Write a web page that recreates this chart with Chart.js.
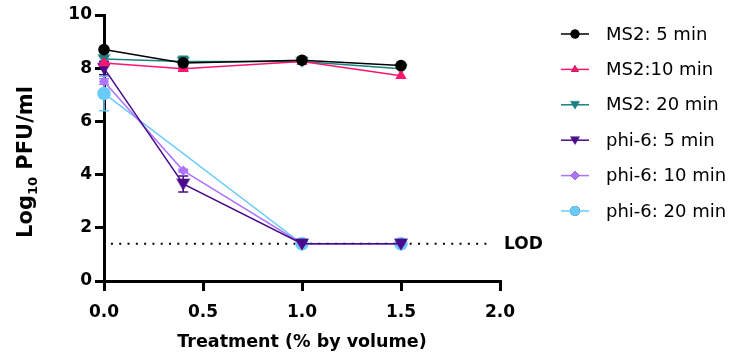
<!DOCTYPE html>
<html>
<head>
<meta charset="utf-8">
<script src="https://cdn.jsdelivr.net/npm/chart.js@4.4.1/dist/chart.umd.min.js"></script>
<style>
  html, body { margin: 0; padding: 0; background: #fff; }
  #wrap { width: 735px; height: 354px; position: relative; }
</style>
</head>
<body>
<div id="wrap"><canvas id="chart"></canvas></div>
<script>
// treatment concentrations (% by volume)
const doses = [0, 0.4, 1.0, 1.5];
const xTicks = [0, 0.5, 1.0, 1.5, 2.0];
const yTicks = [0, 2, 4, 6, 8, 10];
const lod = 1.4;

const seriesNames = ['MS2: 5 min', 'MS2:10 min', 'MS2: 20 min', 'phi-6: 5 min', 'phi-6: 10 min', 'phi-6: 20 min'];
const ms2_5 = [8.7, 8.2, 8.3, 8.1];
const ms2_10 = [8.2, 7.98, 8.25, 7.72];
const ms2_20 = [8.35, 8.25, 8.25, 7.98];
const phi_5 = [8.0, 3.65, 1.4, 1.4];
const phi_10 = [7.5, 4.15, 1.4, 1.4];
const phi_20 = [7.05, null, 1.4, 1.4];

// standard deviations
const ms2_5_sd = [0, 0, 0, 0];
const ms2_10_sd = [0.05, 0.05, 0, 0];
const ms2_20_sd = [0.1, 0.2, 0, 0];
const phi_5_sd = [0.25, 0.3, 0, 0];
const phi_10_sd = [0.1, 0.05, 0, 0];
const phi_20_sd = [0.65, 0, 0, 0];

const colors = ['#000000', '#ff1470', '#1b8080', '#4a0a8a', '#ad74ff', '#68ccfa'];
const shapes = ['circle', 'triangle', 'triangleDown', 'triangleDown', 'rectRot', 'circle'];
const sizes = [5.8, 6.5, 6.5, 7, 5.2, 6.8];

// Chart.js has no downward triangle, so make one
function downTriangle(r, color) {
  const c = document.createElement('canvas');
  const s = Math.ceil(r * 2 + 2);
  c.width = s; c.height = s;
  const g = c.getContext('2d');
  g.fillStyle = color;
  g.beginPath();
  g.moveTo(s / 2 - r, s / 2 - r * 0.75);
  g.lineTo(s / 2 + r, s / 2 - r * 0.75);
  g.lineTo(s / 2, s / 2 + r * 0.95);
  g.closePath();
  g.fill();
  return c;
}

const values = [ms2_5, ms2_10, ms2_20, phi_5, phi_10, phi_20];
const errors = [ms2_5_sd, ms2_10_sd, ms2_20_sd, phi_5_sd, phi_10_sd, phi_20_sd];

const datasets = values.map((vals, i) => ({
  label: seriesNames[i],
  data: doses.map((d, j) => ({ x: d, y: vals[j] })),
  borderColor: colors[i],
  backgroundColor: colors[i],
  borderWidth: 1.5,
  pointStyle: shapes[i] === 'triangleDown' ? downTriangle(sizes[i], colors[i]) : shapes[i],
  pointRadius: sizes[i],
  pointBorderWidth: 0,
  spanGaps: true,
  clip: false,
  sd: errors[i]
}));

const errorBars = {
  id: 'errorBars',
  beforeDatasetsDraw(chart) {
    const ctx = chart.ctx, ys = chart.scales.y;
    chart.data.datasets.forEach((ds, i) => {
      const meta = chart.getDatasetMeta(i);
      ctx.save();
      ctx.strokeStyle = ds.borderColor;
      ctx.lineWidth = 1.5;
      meta.data.forEach((pt, j) => {
        const v = ds.data[j].y, e = ds.sd[j];
        if (v == null || !e) return;
        const top = ys.getPixelForValue(v + e), bot = ys.getPixelForValue(v - e);
        ctx.beginPath();
        ctx.moveTo(pt.x, top); ctx.lineTo(pt.x, bot);
        ctx.moveTo(pt.x - 5, top); ctx.lineTo(pt.x + 5, top);
        ctx.moveTo(pt.x - 5, bot); ctx.lineTo(pt.x + 5, bot);
        ctx.stroke();
      });
      ctx.restore();
    });
  }
};

const lodLine = {
  id: 'lodLine',
  beforeDatasetsDraw(chart) {
    const ctx = chart.ctx, xs = chart.scales.x, ys = chart.scales.y;
    const y = ys.getPixelForValue(lod);
    ctx.save();
    ctx.strokeStyle = '#000';
    ctx.lineWidth = 2;
    ctx.setLineDash([2, 6.3]);
    ctx.beginPath();
    ctx.moveTo(xs.getPixelForValue(0.035), y);
    ctx.lineTo(xs.getPixelForValue(1.94), y);
    ctx.stroke();
    ctx.setLineDash([]);
    ctx.fillStyle = '#000';
    ctx.font = 'bold 17px "DejaVu Sans"';
    ctx.textBaseline = 'middle';
    ctx.fillText('LOD', xs.getPixelForValue(2.0) + 4, y + 1);
    ctx.restore();
  }
};

const titlesAndLegend = {
  id: 'titlesAndLegend',
  afterDraw(chart) {
    const ctx = chart.ctx, area = chart.chartArea;
    ctx.save();
    ctx.fillStyle = '#000';

    // x axis title
    ctx.font = 'bold 17.5px "DejaVu Sans"';
    ctx.textAlign = 'center';
    ctx.textBaseline = 'alphabetic';
    ctx.fillText('Treatment (% by volume)', (area.left + area.right) / 2, 347);

    // y axis title with subscript
    ctx.translate(32, 162);
    ctx.rotate(-Math.PI / 2);
    const big = 'bold 21px "DejaVu Sans"', small = 'bold 13px "DejaVu Sans"';
    ctx.font = big; const w1 = ctx.measureText('Log').width;
    ctx.font = small; const w2 = ctx.measureText('10').width;
    ctx.font = big; const w3 = ctx.measureText(' PFU/ml').width;
    let x = -(w1 + w2 + w3) / 2;
    ctx.textAlign = 'left';
    ctx.font = big; ctx.fillText('Log', x, 0); x += w1;
    ctx.font = small; ctx.fillText('10', x, 5); x += w2;
    ctx.font = big; ctx.fillText(' PFU/ml', x, 0);
    ctx.restore();

    // legend
    ctx.save();
    ctx.font = '18px "DejaVu Sans"';
    ctx.textBaseline = 'middle';
    chart.data.datasets.forEach((ds, i) => {
      const y = 34 + i * 35.4;
      ctx.strokeStyle = ds.borderColor;
      ctx.lineWidth = 1.5;
      ctx.beginPath(); ctx.moveTo(561, y); ctx.lineTo(589, y); ctx.stroke();
      Chart.helpers.drawPoint(ctx, {
        pointStyle: shapes[i] === 'triangleDown' ? downTriangle(5, ds.borderColor) : shapes[i],
        radius: shapes[i] === 'circle' && i === 5 ? 5 : 4.5,
        borderWidth: 0
      }, 575, y);
      ctx.fillStyle = ds.borderColor;
      ctx.fill();
      ctx.fillStyle = '#000';
      ctx.fillText(ds.label, 606, y + 1);
    });
    ctx.restore();
  }
};

const tickFont = { family: 'DejaVu Sans', size: 17, weight: 'bold' };

new Chart(document.getElementById('chart'), {
  type: 'line',
  data: { datasets },
  options: {
    responsive: true,
    maintainAspectRatio: false,
    animation: false,
    layout: { padding: { left: 0, right: 235, top: 15, bottom: 0 } },
    plugins: { legend: { display: false }, tooltip: { enabled: false } },
    scales: {
      x: {
        type: 'linear', min: 0, max: 2,
        afterBuildTicks: s => { s.ticks = xTicks.map(v => ({ value: v })); },
        afterFit: s => { s.height = 73; },
        ticks: { color: '#000', font: tickFont, padding: 11, callback: v => v.toFixed(1) },
        grid: { drawOnChartArea: false, color: '#000', lineWidth: 3, tickLength: 10 },
        border: { color: '#000', width: 3 }
      },
      y: {
        min: 0, max: 10,
        afterBuildTicks: s => { s.ticks = yTicks.map(v => ({ value: v })); },
        afterFit: s => { s.width = 104; },
        ticks: { color: '#000', font: tickFont, padding: 3 },
        grid: { drawOnChartArea: false, color: '#000', lineWidth: 3, tickLength: 9 },
        border: { color: '#000', width: 3 }
      }
    }
  },
  plugins: [errorBars, lodLine, titlesAndLegend]
});
</script>
</body>
</html>
